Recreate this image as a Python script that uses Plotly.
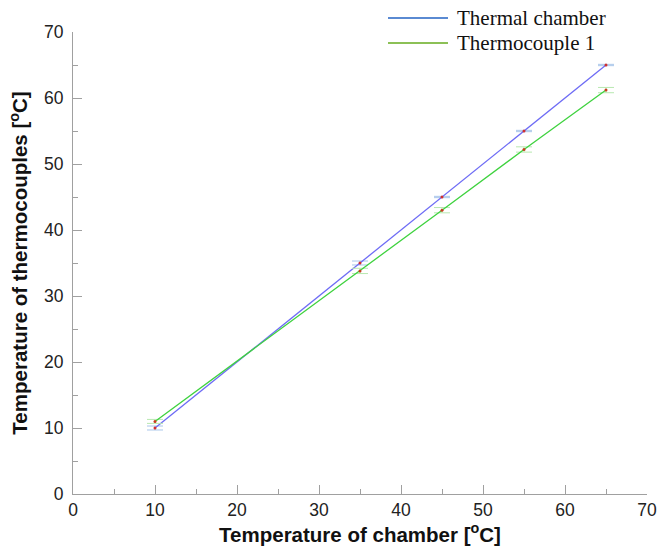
import plotly.graph_objects as go

x_vals = [10, 35, 45, 55, 65]
chamber = [10, 35, 45, 55, 65]
thermo1 = [11.0, 33.8, 43.0, 52.2, 61.2]
err_chamber = [0.3, 0.3, 0.1, 0.1, 0.1]
err_thermo1 = [0.3, 0.4, 0.4, 0.4, 0.4]
series_names = ["Thermal chamber", "Thermocouple 1"]

fig = go.Figure()
fig.add_trace(go.Scatter(
    x=x_vals, y=chamber, mode="lines+markers", showlegend=False,
    line=dict(color="#6e6cf5", width=1.3),
    marker=dict(color="#d03030", size=3),
    error_y=dict(type="data", array=err_chamber, color="#a9c6ea", thickness=1, width=8),
))
fig.add_trace(go.Scatter(
    x=x_vals, y=thermo1, mode="lines+markers", showlegend=False,
    line=dict(color="#3fd23f", width=1.3),
    marker=dict(color="#c83c1e", size=3),
    error_y=dict(type="data", array=err_thermo1, color="#b8e8b0", thickness=1, width=8),
))

# legend drawn manually
leg_colors = ["#5a8ad2", "#8cc056"]
leg_y = [1.0303, 0.9762]
for name, c, yy in zip(series_names, leg_colors, leg_y):
    fig.add_shape(type="line", xref="paper", yref="paper", x0=0.5488, x1=0.6533,
                  y0=yy, y1=yy, line=dict(color=c, width=2))
    fig.add_annotation(xref="paper", yref="paper", x=0.6655, y=yy, text=name,
                       showarrow=False, xanchor="left", yanchor="middle",
                       font=dict(family="Liberation Serif", size=21, color="#111"))

axis_common = dict(
    showline=True, linecolor="#a0a0a0", linewidth=1.2,
    ticks="inside", ticklen=9, tickcolor="#a0a0a0", tickwidth=1,
    showgrid=False, zeroline=False, range=[0, 70], dtick=10,
    minor=dict(ticks="inside", ticklen=5, tickcolor="#a0a0a0", dtick=5),
    tickfont=dict(family="Liberation Sans", size=17.5, color="#222"),
)
fig.update_xaxes(**axis_common, automargin=False,
                 title=dict(text="Temperature of chamber [<sup>o</sup>C]",
                            font=dict(family="Liberation Sans", size=20.5, color="#111", weight="bold"),
                            standoff=8))
fig.update_yaxes(**axis_common, automargin=False, ticklabelstandoff=5,
                 title=dict(text="Temperature of thermocouples [<sup>o</sup>C]",
                            font=dict(family="Liberation Sans", size=20.5, color="#111", weight="bold"),
                            standoff=10))

fig.update_layout(
    width=662, height=550,
    margin=dict(l=73, r=15, t=32, b=56),
    plot_bgcolor="white", paper_bgcolor="white",
)
fig.write_html("out.html")
